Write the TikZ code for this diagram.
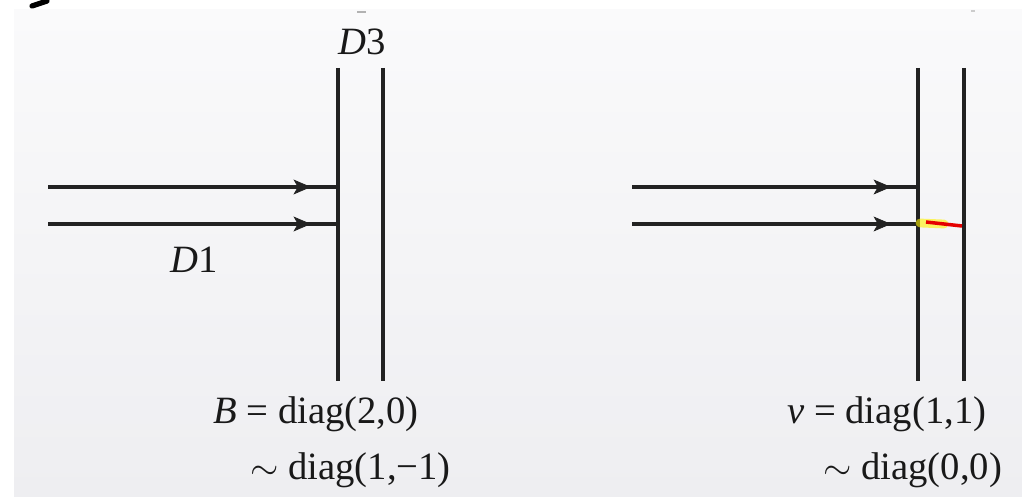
\documentclass[tikz,border=0pt]{standalone}
\usepackage{fontspec}
\setmainfont{Liberation Serif}
\usetikzlibrary{arrows.meta,decorations.markings}
\definecolor{linec}{HTML}{222222}
\definecolor{panelTop}{HTML}{FAFAFB}
\definecolor{panelBot}{HTML}{EEEEF1}
\tikzset{
  wall/.style={draw=linec,line width=1.9pt},
  beam/.style={draw=linec,line width=1.9pt,postaction={decorate},
    decoration={markings,mark=at position #1 with {\arrow[line width=0.4pt]{Stealth[length=10pt,width=8.5pt,inset=2.5pt]}}}},
  lbl/.style={inner sep=0pt,anchor=base west,text=black!90,font=\fontsize{22}{25}\selectfont},
}
\begin{document}
\begin{tikzpicture}[x=0.02cm,y=-0.02cm]
\useasboundingbox (0,0) rectangle (1022,499);
\shade[top color=panelTop,bottom color=panelBot] (14,10) rectangle (1022,497);
% fragments at the top edge
\draw[line width=3pt,black,line cap=round] (32,6) -- (47,1);
\draw[gray!60,line width=1pt] (357,12) -- (366,12);
\draw[gray!40,line width=1pt] (971,11) -- (975,11);
% left walls
\coordinate (LAt) at (338,68); \coordinate (LAb) at (338,381);
\coordinate (LBt) at (383,68); \coordinate (LBb) at (383,381);
\draw[wall] (LAt) -- (LAb);
\draw[wall] (LBt) -- (LBb);
% left beams
\coordinate (la1s) at (48,187); \coordinate (la1e) at (338,187);
\coordinate (la2s) at (48,224); \coordinate (la2e) at (338,224);
\draw[beam=0.907] (la1s) -- (la1e);
\draw[beam=0.907] (la2s) -- (la2e);
% right walls
\coordinate (RAt) at (918,68); \coordinate (RAb) at (918,381);
\coordinate (RBt) at (964,68); \coordinate (RBb) at (964,381);
\draw[wall] (RAt) -- (RAb);
\draw[wall] (RBt) -- (RBb);
% right beams
\coordinate (ra1s) at (632,187); \coordinate (ra1e) at (918,187);
\coordinate (ra2s) at (632,224); \coordinate (ra2e) at (918,224);
\draw[beam=0.906] (ra1s) -- (ra1e);
\draw[beam=0.906] (ra2s) -- (ra2e);
% highlight
\coordinate (hs) at (920,223); \coordinate (hm) at (944,224);
\coordinate (rs) at (926,222); \coordinate (re) at (962,226);
\draw[yellow,opacity=0.6,line width=5pt,line cap=round] (hs) -- (hm);
\draw[red!90!black,line width=2pt] (rs) -- (re);
% labels
\node[lbl] (D3) at (338,55) {\textit{D}3};
\node[lbl] (D1) at (170,273) {\textit{D}1};
\node[lbl] (B) at (213,424) {\textit{B} = diag(2,0)};
\node[lbl] (Bs) at (250,480) {$\sim$ diag(1,−1)};
\node[lbl] (v) at (787,424) {\textit{v} = diag(1,1)};
\node[lbl] (vs) at (823,480) {$\sim$ diag(0,0)};
\end{tikzpicture}
\end{document}
